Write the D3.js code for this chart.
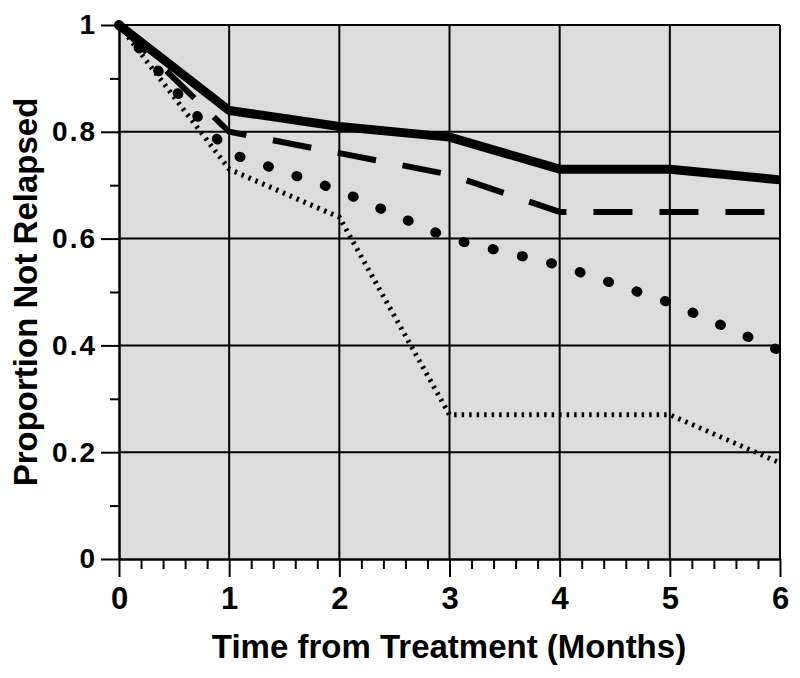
<!DOCTYPE html>
<html>
<head>
<meta charset="utf-8">
<script src="https://cdn.jsdelivr.net/npm/d3@7"></script>
<style>
html,body{margin:0;padding:0;background:#fff;}
svg{display:block;}
text{font-family:"Liberation Sans",Arial,sans-serif;font-weight:bold;fill:#000;}
</style>
</head>
<body>
<svg id="chart" width="800" height="678"></svg>
<script>
const months = [0, 1, 2, 3, 4, 5, 6];
const xTickLabels = ["0", "1", "2", "3", "4", "5", "6"];
const yTickValues = [0, 0.2, 0.4, 0.6, 0.8, 1];
const yTickLabels = ["0", "0.2", "0.4", "0.6", "0.8", "1"];
const solidSeries = [1, 0.84, 0.81, 0.79, 0.73, 0.73, 0.71];
const dashedSeries = [1, 0.80, 0.76, 0.72, 0.65, 0.65, 0.65];
const dotSeries = [1, 0.76, 0.69, 0.60, 0.55, 0.48, 0.39];
const fineDotSeries = [1, 0.73, 0.64, 0.27, 0.27, 0.27, 0.18];
const xTitle = "Time from Treatment (Months)";
const yTitle = "Proportion Not Relapsed";

const svg = d3.select("#chart");
const x = d3.scaleLinear().domain([0, 6]).range([119, 780]);
const y = d3.scaleLinear().domain([0, 1]).range([559, 25]);

// plot background
svg.append("rect")
  .attr("x", x(0)).attr("y", y(1))
  .attr("width", x(6) - x(0)).attr("height", y(0) - y(1))
  .attr("fill", "#dcdcdc");

// grid
const g = svg.append("g").attr("stroke", "#000").attr("stroke-width", 2);
months.slice(1).forEach(m => {
  g.append("line").attr("x1", x(m)).attr("x2", x(m)).attr("y1", y(0)).attr("y2", y(1));
});
yTickValues.slice(1).forEach(v => {
  g.append("line").attr("x1", x(0)).attr("x2", x(6)).attr("y1", y(v)).attr("y2", y(v));
});

// axes
const xAxis = d3.axisBottom(x).tickValues(months).tickFormat((d, i) => xTickLabels[i])
  .tickSizeInner(18).tickSizeOuter(0).tickPadding(10);
const xMinor = d3.axisBottom(x).tickValues(d3.range(0, 30).filter(i => i % 5 !== 0).map(i => i / 5))
  .tickFormat("").tickSizeInner(10).tickSizeOuter(0);
const gx = svg.append("g").attr("transform", `translate(0,${y(0)})`).call(xAxis);
const gxm = svg.append("g").attr("transform", `translate(0,${y(0)})`).call(xMinor);
[gx, gxm].forEach(a => {
  a.selectAll("path.domain").attr("stroke", "#000").attr("stroke-width", 2);
  a.selectAll(".tick line").attr("stroke", "#000").attr("stroke-width", 2);
});
gx.selectAll("text").style("font-size", "31px").style("font-family", '"Liberation Sans",Arial,sans-serif')
  .style("font-weight", "bold").attr("fill", "#000");

const yAxis = d3.axisLeft(y).tickValues(yTickValues).tickFormat((d, i) => yTickLabels[i])
  .tickSizeInner(18).tickSizeOuter(0).tickPadding(4);
const yMinor = d3.axisLeft(y).tickValues([0.1, 0.3, 0.5, 0.7, 0.9])
  .tickFormat("").tickSizeInner(9).tickSizeOuter(0);
const gy = svg.append("g").attr("transform", `translate(${x(0)},0)`).call(yAxis);
const gym = svg.append("g").attr("transform", `translate(${x(0)},0)`).call(yMinor);
[gy, gym].forEach(a => {
  a.selectAll("path.domain").attr("stroke", "#000").attr("stroke-width", 2);
  a.selectAll(".tick line").attr("stroke", "#000").attr("stroke-width", 2);
});
gy.selectAll("text").style("font-size", "28px").style("font-family", '"Liberation Sans",Arial,sans-serif')
  .style("font-weight", "bold").style("letter-spacing", "2px").attr("fill", "#000");

// series
const line = d3.line().x((d, i) => x(months[i])).y(d => y(d));
svg.append("path").datum(fineDotSeries).attr("d", line)
  .attr("fill", "none").attr("stroke", "#000").attr("stroke-width", 5)
  .attr("stroke-dasharray", "2.5,5");
svg.append("path").datum(dotSeries).attr("d", line)
  .attr("fill", "none").attr("stroke", "#000").attr("stroke-width", 10)
  .attr("stroke-linecap", "round").attr("stroke-dasharray", "1,29");
svg.append("path").datum(dashedSeries).attr("d", line)
  .attr("fill", "none").attr("stroke", "#000").attr("stroke-width", 6)
  .attr("stroke-dasharray", "39,27");
svg.append("path").datum(solidSeries).attr("d", line)
  .attr("fill", "none").attr("stroke", "#000").attr("stroke-width", 9)
  .attr("stroke-linejoin", "round");

// titles
svg.append("text").attr("x", 449).attr("y", 658).attr("text-anchor", "middle")
  .style("font-size", "33px").text(xTitle);
svg.append("text").attr("transform", `translate(37,${(y(0) + y(1)) / 2}) rotate(-90)`)
  .attr("text-anchor", "middle").style("font-size", "33px").text(yTitle);
</script>
</body>
</html>
